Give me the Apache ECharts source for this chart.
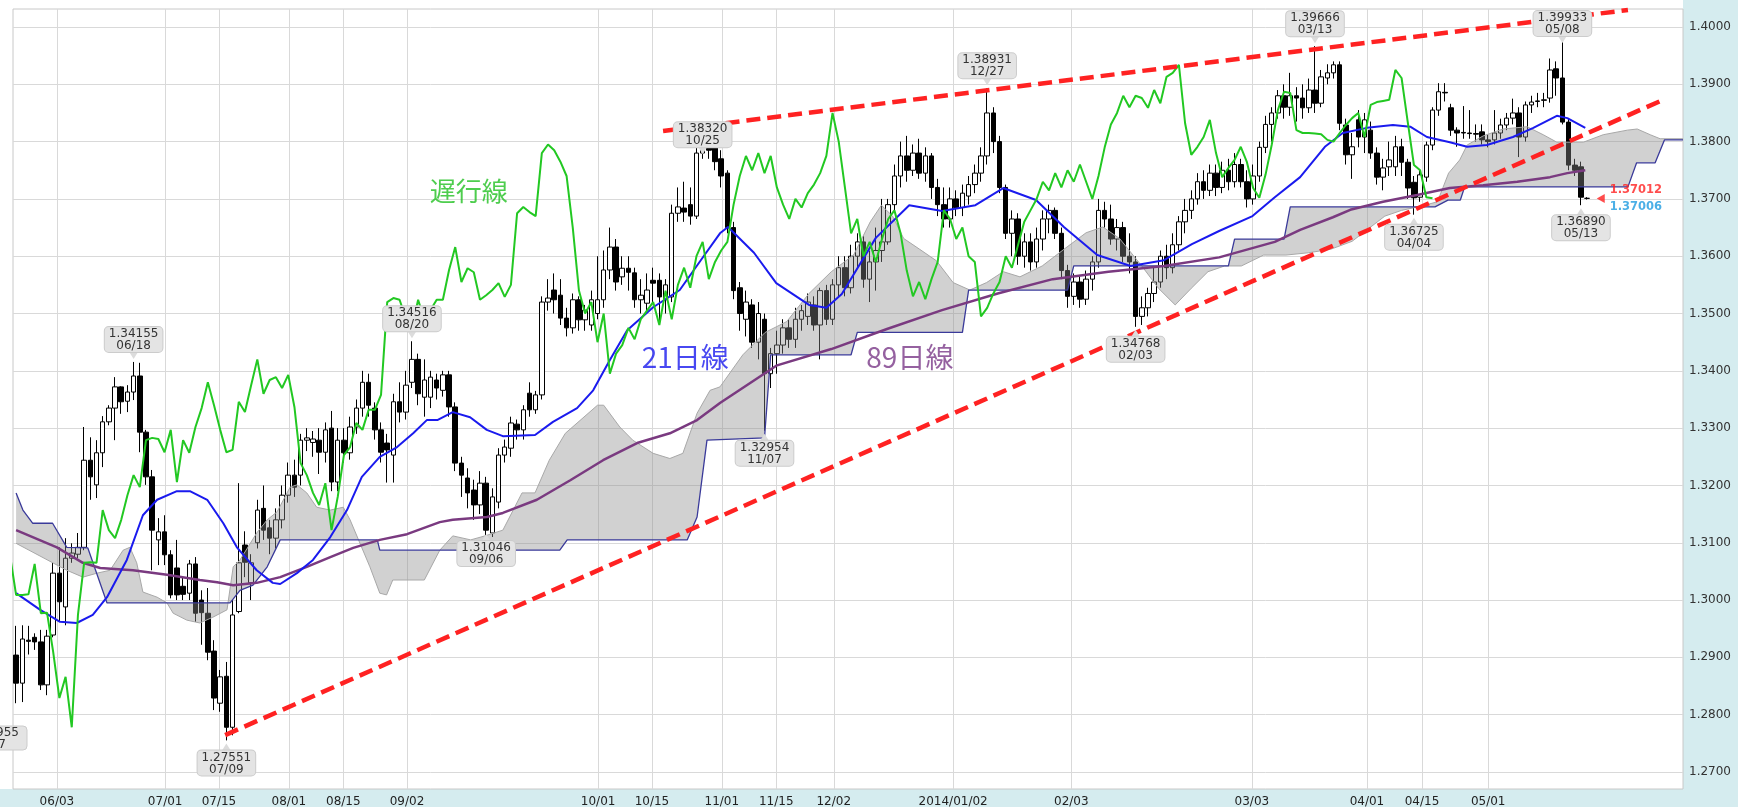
<!DOCTYPE html>
<html>
<head>
<meta charset="utf-8">
<script src="https://cdn.jsdelivr.net/npm/echarts@6/dist/echarts.min.js"></script>
<style>
  html, body { margin: 0; padding: 0; background: #fff; }
  #chart { width: 1738px; height: 807px; }
</style>
</head>
<body>
<div id="chart"></div>
<script>
// daily candles, [open, close, low, high], slot 0 = first visible day
const ohlc = [
  [1.2904,1.2855,1.2820,1.2955],[1.2855,1.2932,1.2822,1.2956],[1.2930,1.2928,1.2905,1.2955],[1.2935,1.2927,1.2913,1.2942],
  [1.2927,1.2852,1.2843,1.2948],[1.2852,1.2937,1.2834,1.2948],[1.2939,1.3047,1.2935,1.3065],[1.3047,1.2997,1.2962,1.3092],
  [1.2988,1.3073,1.2956,1.3108],[1.3073,1.3082,1.3065,1.3099],[1.3080,1.3092,1.3073,1.3117],[1.3092,1.3244,1.3087,1.3302],
  [1.3244,1.3215,1.3175,1.3284],[1.3201,1.3257,1.3178,1.3279],[1.3257,1.3311,1.3232,1.3321],[1.3311,1.3335,1.3305,1.3340],
  [1.3335,1.3372,1.3279,1.3389],[1.3372,1.3346,1.3325,1.3373],[1.3347,1.3363,1.3328,1.3375],[1.3363,1.3391,1.3349,1.34155],
  [1.3391,1.3293,1.3258,1.3414],[1.3293,1.3215,1.3201,1.3297],[1.3215,1.3122,1.3052,1.3227],[1.3105,1.3119,1.3061,1.3143],
  [1.3119,1.3079,1.3061,1.3148],[1.3079,1.3009,1.3003,1.3087],[1.3056,1.3009,1.3000,1.3105],[1.3024,1.3010,1.3000,1.3040],
  [1.3012,1.3063,1.3000,1.3070],[1.3063,1.2977,1.2962,1.3075],[1.3000,1.2978,1.2922,1.3017],[1.2977,1.2909,1.2895,1.3021],
  [1.2911,1.2829,1.2808,1.2930],[1.2820,1.2866,1.2805,1.2878],[1.2867,1.2778,1.27551,1.2892],[1.2778,1.2974,1.2764,1.3000],
  [1.2980,1.3065,1.2977,1.3204],[1.3096,1.3066,1.3040,1.3120],[1.3030,1.3065,1.3000,1.3080],[1.3100,1.3157,1.3090,1.3175],
  [1.3160,1.3122,1.3105,1.3200],[1.3126,1.3108,1.3080,1.3140],[1.3108,1.3140,1.3090,1.3160],[1.3140,1.3183,1.3125,1.3200],
  [1.3183,1.3218,1.3170,1.3240],[1.3218,1.3197,1.3180,1.3245],[1.3218,1.3279,1.3200,1.3290],[1.3279,1.3283,1.3260,1.3300],
  [1.3275,1.3281,1.3250,1.3295],[1.3279,1.3258,1.3220,1.3300],[1.3258,1.3297,1.3240,1.3310],[1.3300,1.3206,1.3190,1.3330],
  [1.3206,1.3279,1.3190,1.3300],[1.3279,1.3257,1.3240,1.3300],[1.3257,1.3302,1.3245,1.3320],[1.3302,1.3335,1.3290,1.3350],
  [1.3335,1.3380,1.3320,1.3400],[1.3380,1.3340,1.3320,1.3395],[1.3335,1.3297,1.3280,1.3345],[1.3297,1.3258,1.3240,1.3310],
  [1.3274,1.3262,1.3205,1.3290],[1.3253,1.3346,1.3205,1.3360],[1.3346,1.3328,1.3310,1.3380],[1.3328,1.3375,1.3315,1.3400],
  [1.3380,1.3420,1.3370,1.34516],[1.3420,1.3360,1.3340,1.3430],[1.3354,1.3384,1.3320,1.3420],[1.3354,1.3389,1.3335,1.3400],
  [1.3384,1.3370,1.3350,1.3395],[1.3366,1.3393,1.3355,1.3400],[1.3393,1.3337,1.3320,1.3400],[1.3337,1.3239,1.3225,1.3345],
  [1.3239,1.3218,1.3180,1.3250],[1.3213,1.3187,1.3160,1.3230],[1.3192,1.3166,1.3140,1.3210],[1.3166,1.3204,1.3150,1.3225],
  [1.3204,1.3122,1.31046,1.3215],[1.3117,1.3180,1.3110,1.3195],[1.3171,1.3253,1.3160,1.3265],[1.3253,1.3267,1.3240,1.3280],
  [1.3265,1.3309,1.3250,1.3320],[1.3307,1.3297,1.3280,1.3315],[1.3297,1.3332,1.3280,1.3340],[1.3361,1.3332,1.3320,1.3380],
  [1.3332,1.3358,1.3325,1.3365],[1.3358,1.3520,1.3350,1.3530],[1.3520,1.3527,1.3505,1.3560],[1.3541,1.3524,1.3500,1.3570],
  [1.3532,1.3492,1.3480,1.3560],[1.3492,1.3475,1.3460,1.3510],[1.3475,1.3524,1.3465,1.3535],[1.3524,1.3489,1.3470,1.3530],
  [1.3489,1.3506,1.3470,1.3515],[1.3480,1.3524,1.3470,1.3540],[1.3500,1.3524,1.3490,1.3600],[1.3524,1.3576,1.3510,1.3610],
  [1.3576,1.3616,1.3560,1.3650],[1.3616,1.3555,1.3540,1.3630],[1.3564,1.3579,1.3550,1.3600],[1.3579,1.3572,1.3540,1.3600],
  [1.3571,1.3524,1.3510,1.3580],[1.3524,1.3532,1.3500,1.3560],[1.3518,1.3541,1.3500,1.3570],[1.3558,1.3553,1.3520,1.3580],
  [1.3558,1.3529,1.3480,1.3570],[1.3524,1.3550,1.3500,1.3560],[1.3529,1.3675,1.3520,1.3690],[1.3675,1.3686,1.3660,1.3720],
  [1.3684,1.3677,1.3660,1.3730],[1.3690,1.3670,1.3655,1.3720],[1.3670,1.3780,1.3665,1.3790],[1.3780,1.3795,1.3770,1.3832],
  [1.3795,1.3785,1.3770,1.3815],[1.3790,1.3765,1.3750,1.3810],[1.3770,1.3740,1.3720,1.3785],[1.3745,1.3650,1.3640,1.3750],
  [1.3650,1.3540,1.3525,1.3660],[1.3545,1.3500,1.3470,1.3555],[1.3490,1.3520,1.3460,1.3540],[1.3515,1.3450,1.3440,1.3525],
  [1.3450,1.3500,1.3420,1.3520],[1.3490,1.3395,1.32954,1.3500],[1.3395,1.3430,1.3370,1.3440],[1.3430,1.3445,1.3395,1.3470],
  [1.3445,1.3475,1.3430,1.3490],[1.3475,1.3455,1.3440,1.3490],[1.3455,1.3490,1.3440,1.3510],[1.3490,1.3505,1.3470,1.3515],
  [1.3495,1.3520,1.3480,1.3535],[1.3515,1.3480,1.3470,1.3530],[1.3480,1.3540,1.3420,1.3545],[1.3540,1.3490,1.3480,1.3550],
  [1.3490,1.3550,1.3480,1.3560],[1.3550,1.3580,1.3530,1.3600],[1.3580,1.3545,1.3530,1.3600],[1.3545,1.3600,1.3535,1.3620],
  [1.3600,1.3625,1.3580,1.3640],[1.3625,1.3560,1.3545,1.3635],[1.3560,1.3590,1.3520,1.3610],[1.3590,1.3610,1.3540,1.3650],
  [1.3610,1.3625,1.3590,1.3700],[1.3625,1.3690,1.3620,1.3700],[1.3690,1.3740,1.3680,1.3760],[1.3740,1.3775,1.3720,1.3800],
  [1.3775,1.3750,1.3730,1.3810],[1.3750,1.3780,1.3740,1.3795],[1.3780,1.3745,1.3735,1.3805],[1.3745,1.3775,1.3730,1.3790],
  [1.3775,1.3720,1.3700,1.3780],[1.3720,1.3690,1.3670,1.3735],[1.3690,1.3665,1.3650,1.3720],[1.3665,1.3700,1.3650,1.3720],
  [1.3700,1.3685,1.3670,1.3715],[1.3685,1.3710,1.3670,1.3725],[1.3705,1.3725,1.3690,1.3740],[1.3725,1.3745,1.3710,1.3760],
  [1.3745,1.3775,1.3730,1.3790],[1.3775,1.3850,1.3760,1.38931],[1.3850,1.3800,1.3780,1.3860],[1.3800,1.3720,1.3710,1.3810],
  [1.3720,1.3640,1.3630,1.3725],[1.3640,1.3665,1.3600,1.3680],[1.3665,1.3600,1.3585,1.3675],[1.3600,1.3625,1.3580,1.3640],
  [1.3625,1.3590,1.3575,1.3640],[1.3590,1.3630,1.3580,1.3650],[1.3630,1.3665,1.3610,1.3680],[1.3665,1.3680,1.3640,1.3690],
  [1.3680,1.3640,1.3630,1.3685],[1.3640,1.3575,1.3560,1.3650],[1.3575,1.3530,1.3510,1.3585],[1.3530,1.3555,1.3515,1.3570],
  [1.3555,1.3525,1.3510,1.3565],[1.3525,1.3560,1.3515,1.3575],[1.3560,1.3590,1.3540,1.3600],[1.3590,1.3680,1.3580,1.3700],
  [1.3680,1.3665,1.3650,1.3695],[1.3665,1.3630,1.3620,1.3690],[1.3630,1.3650,1.3610,1.3665],[1.3650,1.3600,1.3590,1.3660],
  [1.3600,1.3590,1.3570,1.3640],[1.3590,1.3495,1.34768,1.3600],[1.3495,1.3510,1.3480,1.3530],[1.3510,1.3535,1.3495,1.3545],
  [1.3535,1.3555,1.3520,1.3580],[1.3555,1.3600,1.3545,1.3610],[1.3600,1.3580,1.3560,1.3620],[1.3580,1.3620,1.3570,1.3640],
  [1.3620,1.3660,1.3610,1.3670],[1.3660,1.3680,1.3640,1.3700],[1.3680,1.3700,1.3665,1.3715],[1.3700,1.3730,1.3690,1.3745],
  [1.3730,1.3715,1.3700,1.3750],[1.3715,1.3745,1.3705,1.3760],[1.3745,1.3720,1.3705,1.3760],[1.3720,1.3750,1.3710,1.3765],
  [1.3750,1.3730,1.3715,1.3770],[1.3730,1.3760,1.3720,1.3780],[1.3760,1.3730,1.3720,1.3770],[1.3730,1.3700,1.3685,1.3750],
  [1.3700,1.3740,1.3690,1.3760],[1.3740,1.3790,1.3730,1.3800],[1.3790,1.3830,1.3780,1.3845],[1.3830,1.3850,1.3800,1.3860],
  [1.3850,1.3880,1.3840,1.3890],[1.3880,1.3860,1.3840,1.3900],[1.3860,1.3880,1.3845,1.3920],[1.3880,1.3876,1.3835,1.3895],
  [1.3876,1.3859,1.3840,1.3900],[1.3859,1.3890,1.3850,1.3910],[1.3890,1.3867,1.3850,1.39666],[1.3867,1.3913,1.3860,1.3925],
  [1.3911,1.3920,1.3900,1.3935],[1.3920,1.3934,1.3910,1.3940],[1.3934,1.3832,1.3820,1.3940],[1.3829,1.3777,1.3760,1.3840],
  [1.3777,1.3791,1.3735,1.3815],[1.3838,1.3808,1.3790,1.3855],[1.3808,1.3838,1.3780,1.3850],[1.3820,1.3780,1.3770,1.3835],
  [1.3780,1.3738,1.3725,1.3790],[1.3738,1.3754,1.3715,1.3770],[1.3756,1.3768,1.3740,1.3800],[1.3756,1.3791,1.3740,1.3810],
  [1.3791,1.3764,1.3740,1.3805],[1.3764,1.3719,1.3700,1.3770],[1.3729,1.3702,1.36725,1.3740],[1.3703,1.3742,1.3695,1.3750],
  [1.3738,1.3794,1.3730,1.3800],[1.3794,1.3855,1.3785,1.3860],[1.3855,1.3887,1.3845,1.3902],[1.3886,1.3885,1.3870,1.3902],
  [1.3859,1.3820,1.3810,1.3866],[1.3820,1.3815,1.3791,1.3825],[1.3816,1.3815,1.3805,1.3862],[1.3815,1.3814,1.3805,1.3855],
  [1.3814,1.3813,1.3800,1.3830],[1.3817,1.3803,1.3795,1.3830],[1.3803,1.3800,1.3790,1.3812],[1.3803,1.3815,1.3795,1.3855],
  [1.3815,1.3829,1.3805,1.3840],[1.3829,1.3841,1.3820,1.3850],[1.3841,1.3850,1.3830,1.3875],[1.3850,1.3808,1.3773,1.3860],
  [1.3808,1.3864,1.3800,1.3870],[1.3864,1.3869,1.3850,1.3880],[1.3870,1.3871,1.3860,1.3885],[1.3872,1.3873,1.3860,1.3885],
  [1.3876,1.3925,1.3868,1.3945],[1.3927,1.3911,1.3880,1.3940],[1.3911,1.3834,1.3830,1.39933],[1.3834,1.3759,1.3750,1.3840],
  [1.3759,1.3750,1.3740,1.3770],[1.3756,1.3703,1.3689,1.3765],[1.3701,1.3701,1.3699,1.3703]
];

// moving averages and ichimoku spans, [slot, price]
const ma21 = [[0,1.3012],[3.9,1.2983],[7.1,1.2962],[9.8,1.2960],[12.4,1.2974],[14.7,1.3005],[17.9,1.3070],[20.5,1.3148],
  [22.8,1.3175],[26.0,1.3190],[28.1,1.3190],[30.9,1.3175],[33.5,1.3134],[35.7,1.3092],[38.9,1.3052],[41.5,1.3030],
  [42.7,1.3028],[45.4,1.3047],[48.0,1.3070],[50.8,1.3110],[53.5,1.3157],[55.9,1.3215],[58.8,1.3250],[61.6,1.3267],
  [64.2,1.3291],[66.4,1.3314],[68.1,1.3314],[70.6,1.3328],[73.4,1.3319],[76.1,1.3297],[78.7,1.3286],[83.9,1.3288],
  [86.8,1.3311],[90.7,1.3335],[93.3,1.3366],[96.0,1.3419],[98.8,1.3471],[103.0,1.3511],[107.3,1.3541],[111.1,1.3599],
  [113.8,1.3640],[115.1,1.3651],[119.3,1.3606],[122.9,1.3553],[128.2,1.3515],[131.0,1.3510],[133.5,1.3534],[139.0,1.3632],
  [144.4,1.3689],[149.7,1.3679],[155.1,1.3689],[159.6,1.3719],[164.9,1.3698],[169.4,1.3651],[174.8,1.3602],[180.2,1.3583],
  [185.6,1.3593],[190.1,1.3621],[194.5,1.3644],[199.9,1.3670],[203.5,1.3703],[207.6,1.3738],[211.6,1.3791],[214.5,1.3815],
  [218.4,1.3824],[222.6,1.3829],[225.4,1.3826],[228.1,1.3808],[231.8,1.3799],[234.6,1.3791],[237.8,1.3794],[242.0,1.3808],
  [245.3,1.3824],[249.1,1.3845],[250.8,1.3841],[253.7,1.3824]];

const ma89 = [[0,1.3122],[6.6,1.3092],[10.8,1.3065],[13.6,1.3056],[18.9,1.3052],[24.4,1.3044],[29.7,1.3035],[32.5,1.3031],
  [35.1,1.3026],[38.9,1.3030],[42.7,1.3040],[47.0,1.3058],[50.8,1.3075],[54.5,1.3091],[58.8,1.3105],[63.2,1.3115],
  [68.5,1.3136],[70.6,1.3140],[76.1,1.3145],[78.7,1.3152],[84.2,1.3175],[89.6,1.3209],[94.9,1.3244],[100.4,1.3274],
  [105.7,1.3291],[110.1,1.3314],[113.8,1.3344],[122.9,1.3409],[131.8,1.3438],[140.8,1.3473],[149.7,1.3506],[158.7,1.3535],
  [167.6,1.3560],[176.6,1.3573],[185.6,1.3583],[194.5,1.3598],[203.5,1.3625],[207.6,1.3646],[212.9,1.3668],[215.7,1.3681],
  [221.0,1.3695],[226.5,1.3707],[231.8,1.3719],[237.2,1.3724],[242.7,1.3730],[248.0,1.3738],[250.8,1.3745],[253.7,1.3750]];

const spanA = [[0,1.3099],[8.2,1.3052],[10.8,1.3040],[13.1,1.3047],[15.2,1.3052],[17.3,1.3087],[18.4,1.3092],[19.5,1.3065],
  [20.5,1.3014],[22.8,1.3005],[24.4,1.2995],[25.4,1.2977],[27.6,1.2965],[29.7,1.2960],[31.8,1.2970],[34.1,1.2983],
  [35.1,1.3058],[36.2,1.3070],[38.9,1.3117],[40.6,1.3140],[42.2,1.3154],[44.3,1.3197],[45.4,1.3201],[47.0,1.3187],
  [48.6,1.3162],[50.8,1.3157],[52.9,1.3162],[54.0,1.3140],[55.6,1.3099],[57.2,1.3058],[58.8,1.3012],[59.9,1.3009],
  [60.9,1.3035],[66.0,1.3035],[68.5,1.3087],[70.6,1.3112],[73.5,1.3105],[75.8,1.3112],[78.7,1.3122],[81.8,1.3187],
  [83.9,1.3187],[86.2,1.3244],[88.8,1.3291],[94.0,1.3340],[95.0,1.3340],[97.6,1.3302],[99.7,1.3279],[103.0,1.3256],
  [105.7,1.3247],[107.8,1.3256],[110.1,1.3326],[112.2,1.3366],[113.8,1.3372],[117.5,1.3428],[121.1,1.3467],[124.6,1.3486],
  [128.2,1.3535],[131.8,1.3573],[135.4,1.3602],[138.1,1.3660],[139.9,1.3689],[141.7,1.3670],[143.5,1.3631],[146.1,1.3612],
  [148.8,1.3592],[151.5,1.3554],[154.2,1.3541],[156.9,1.3554],[159.6,1.3573],[162.3,1.3564],[165.9,1.3583],[169.4,1.3612],
  [173.0,1.3641],[175.7,1.3651],[178.4,1.3631],[182.0,1.3583],[184.7,1.3544],[187.4,1.3515],[190.0,1.3544],[192.7,1.3573],
  [195.4,1.3583],[198.1,1.3583],[201.7,1.3602],[205.3,1.3602],[208.9,1.3606],[212.5,1.3612],[216.0,1.3626],[221.3,1.3670],
  [224.0,1.3680],[227.4,1.3688],[229.8,1.3695],[231.6,1.3745],[233.4,1.3768],[234.6,1.3794],[237.2,1.3810],[240.4,1.3822],
  [244.3,1.3826],[246.9,1.3812],[249.1,1.3799],[253.4,1.3799],[256.6,1.3812],[260.5,1.3820],[262.1,1.3822],[264.2,1.3812],
  [265.8,1.3805],[269.5,1.3805]];

const spanB = [[0,1.3187],[1.1,1.3157],[2.7,1.3134],[5.9,1.3134],[8.2,1.3092],[11.6,1.3091],[14.7,1.2995],[34.6,1.2995],
  [36.2,1.3017],[38.3,1.3026],[40.6,1.3058],[42.7,1.3105],[58.4,1.3105],[58.8,1.3087],[87.9,1.3087],[89.1,1.3105],
  [108.5,1.3105],[110.1,1.3145],[111.7,1.3279],[121,1.3283],[122,1.3428],[135,1.3428],[136,1.3467],[153,1.3467],
  [154,1.3541],[170,1.3541],[171,1.3583],[196,1.3583],[197,1.3630],[205,1.3630],[206,1.3686],[229.4,1.3686],
  [231.5,1.3698],[233.5,1.3698],[234.2,1.3721],[260.6,1.3721],[262,1.3763],[265,1.3763],[266.5,1.3803],[269.5,1.3803]];

const chikouShift = 25;
const slotCount = 270;

// red dashed channel, [slot, price] at each end
const trendUpper = [[104.6,1.38185],[260.6,1.40297]];
const trendLower = [[33.8,1.27644],[266.3,1.3873]];

// axis ticks
const priceTicks = [1.27,1.28,1.29,1.30,1.31,1.32,1.33,1.34,1.35,1.36,1.37,1.38,1.39,1.40];
const dateTickLabels = ['06/03','07/01','07/15','08/01','08/15','09/02','10/01','10/15','11/01','11/15','12/02','2014/01/02','02/03','03/03','04/01','04/15','05/01'];
const dateTickSlots = [6.6,24.1,32.8,44.1,52.9,63.2,94.1,102.8,114.1,122.9,132.2,151.5,170.6,199.8,218.4,227.3,238.0];

// labelled highs and lows
const peakSlots  = [19, 34, 64, 76, 111, 121, 157, 181, 210, 226, 250, 253];
const peakValues = [1.34155,1.27551,1.34516,1.31046,1.38320,1.32954,1.38931,1.34768,1.39666,1.36725,1.39933,1.36890];
const peakDates  = ['06/18','07/09','08/20','09/06','10/25','11/07','12/27','02/03','03/13','04/04','05/08','05/13'];
const peakKinds  = ['H','L','H','L','H','L','H','L','H','L','H','L'];

// current price tags
const bidPrice = 1.37012;
const askPrice = 1.37006;
const tagSlot = 256.2;

// line names
const lineNames = ['遅行線', '21日線', '89日線'];
const lineNameSlots = [73.2, 108.2, 144.5];
const lineNameValues = [1.3714, 1.3424, 1.3424];

const yMin = 1.26703, yMax = 1.40314;
const font = '"DejaVu Sans", Verdana, sans-serif';
const cjk = '"Noto Sans CJK JP", "Noto Sans", sans-serif';

const slots = Array.from({ length: slotCount }, (_, i) => String(i));
const chikou = ohlc.slice(chikouShift - 1).map((d, k) => [k - 1, d[1]]);

// a few boxes sit off their usual spot in the original (px, + = down)
const labelNudge = { '10/25': 34, '09/06': -9 };

const pxPerUnit = 780 / (yMax - yMin);
const peakMarks = peakSlots.map((slot, k) => {
  const isHigh = peakKinds[k] === 'H';
  const room = (yMax - peakValues[k]) * pxPerUnit;
  const push = (isHigh ? Math.max(0, 37 - room) : 0) + (labelNudge[peakDates[k]] || 0);
  return {
    coord: [slot, peakValues[k]],
    symbol: 'triangle',
    symbolSize: [10, 8],
    symbolRotate: isHigh ? 180 : 0,
    symbolOffset: [0, (isHigh ? -7 : 7) + push],
    itemStyle: { color: '#dcdcdc' },
    label: {
      show: true,
      position: isHigh ? 'top' : 'bottom',
      distance: -1,
      formatter: peakValues[k].toFixed(5) + '\n' + peakDates[k],
      fontFamily: font,
      fontSize: 12,
      lineHeight: 12,
      color: '#333',
      align: 'center',
      backgroundColor: '#e4e4e4',
      borderColor: '#cccccc',
      borderWidth: 1,
      borderRadius: 4,
      padding: [1, 4, 0, 4]
    }
  };
});

const nameColors = ['#22c022', '#1a1aee', '#7a3a88'];
const nameSizes = [26, 28, 28];

const chart = echarts.init(document.getElementById('chart'), null, { renderer: 'canvas' });

const option = {
  animation: false,
  backgroundColor: '#ffffff',
  graphic: [
    { type: 'rect', z: -10, shape: { x: 1683, y: 0, width: 60, height: 807 }, style: { fill: '#d5ecef' } },
    { type: 'rect', z: -10, shape: { x: 0, y: 789, width: 1738, height: 20 }, style: { fill: '#d5ecef' } },
    { type: 'group', z: 100, children: [
      { type: 'rect', shape: { x: -40, y: 726, width: 67, height: 24, r: 4 }, style: { fill: '#e4e4e4', stroke: '#cccccc' } },
      { type: 'text', x: 19, y: 727, style: { text: '1.27955', font: '12px ' + font, fill: '#333', align: 'right' } },
      { type: 'text', x: 6, y: 739, style: { text: '05/17', font: '12px ' + font, fill: '#333', align: 'right' } }
    ] }
  ],
  grid: {
    left: 13, right: 55, top: 9, bottom: 18,
    show: true, backgroundColor: '#ffffff', borderColor: '#c8c8c8', borderWidth: 1,
    containLabel: false, outerBoundsMode: 'none'
  },
  xAxis: [
    { type: 'category', data: slots, boundaryGap: true, show: false },
    {
      type: 'value', min: -0.5, max: slotCount - 0.5, position: 'bottom',
      axisLine: { show: false },
      axisTick: { show: false, customValues: dateTickSlots },
      axisLabel: {
        customValues: dateTickSlots, margin: 7, color: '#222', fontFamily: font, fontSize: 12,
        formatter: v => {
          const k = dateTickSlots.findIndex(s => Math.abs(s - v) < 1e-6);
          return k >= 0 ? dateTickLabels[k] : '';
        }
      },
      splitLine: { show: true, lineStyle: { color: '#d9d9d9', width: 1 } }
    }
  ],
  yAxis: {
    type: 'value', position: 'right', min: yMin, max: yMax,
    axisLine: { show: false },
    axisTick: { show: false, customValues: priceTicks },
    axisLabel: {
      customValues: priceTicks, margin: 6, color: '#333', fontFamily: font, fontSize: 12,
      formatter: v => v.toFixed(4)
    },
    splitLine: { show: true, lineStyle: { color: '#d9d9d9', width: 1 } }
  },
  series: [
    {
      name: 'candles', type: 'candlestick', xAxisIndex: 0, yAxisIndex: 0,
      data: ohlc, barWidth: 5, z: 2,
      itemStyle: { color: '#ffffff', color0: '#000000', borderColor: '#000000', borderColor0: '#000000', borderWidth: 1 }
    },
    {
      name: 'cloud', type: 'custom', xAxisIndex: 1, yAxisIndex: 0, z: 3, clip: true,
      data: [[0, spanA[0][1]]],
      renderItem: (params, api) => {
        const pts = spanA.map(d => api.coord(d)).concat(spanB.slice().reverse().map(d => api.coord(d)));
        return { type: 'polygon', shape: { points: pts }, style: { fill: 'rgba(140,140,140,0.40)' } };
      }
    },
    { name: 'spanA', type: 'line', xAxisIndex: 1, data: spanA, showSymbol: false, z: 4,
      lineStyle: { color: '#a8a8a8', width: 1 } },
    { name: 'spanB', type: 'line', xAxisIndex: 1, data: spanB, showSymbol: false, z: 4,
      lineStyle: { color: '#3a3a9a', width: 1.3 } },
    { name: 'ma89', type: 'line', xAxisIndex: 1, data: ma89, showSymbol: false, z: 5,
      lineStyle: { color: '#7a3a80', width: 2.5 } },
    { name: 'ma21', type: 'line', xAxisIndex: 1, data: ma21, showSymbol: false, z: 5,
      lineStyle: { color: '#1a1aee', width: 2 } },
    { name: 'chikou', type: 'line', xAxisIndex: 1, data: chikou, showSymbol: false, z: 6,
      lineStyle: { color: '#22c822', width: 2 } },
    { name: 'trendUpper', type: 'line', xAxisIndex: 1, data: trendUpper, showSymbol: false, z: 7,
      lineStyle: { color: '#ff2222', width: 4.5, type: [14, 7] } },
    { name: 'trendLower', type: 'line', xAxisIndex: 1, data: trendLower, showSymbol: false, z: 7,
      lineStyle: { color: '#ff2222', width: 4.5, type: [14, 7] } },
    {
      name: 'peaks', type: 'line', xAxisIndex: 0, data: [], z: 9,
      markPoint: { z: 9, silent: true, data: peakMarks }
    },
    {
      name: 'names', type: 'scatter', xAxisIndex: 1, symbolSize: 0, z: 8, silent: true,
      data: lineNames.map((n, k) => ({
        value: [lineNameSlots[k], lineNameValues[k]],
        label: { show: true, position: 'inside', formatter: n, color: nameColors[k],
          fontFamily: cjk, fontSize: nameSizes[k] }
      }))
    },
    {
      name: 'tag', type: 'scatter', xAxisIndex: 1, z: 9, silent: true,
      symbol: 'triangle', symbolSize: [9, 8], symbolRotate: 90,
      itemStyle: { color: '#ff2020' },
      data: [{
        value: [tagSlot, (bidPrice + askPrice) / 2],
        label: {
          show: true, position: 'right', distance: 5,
          formatter: '{b|' + bidPrice.toFixed(5) + '}\n{a|' + askPrice.toFixed(5) + '}',
          rich: {
            b: { color: '#ff2020', fontWeight: 'bold', fontFamily: font, fontSize: 11.5, lineHeight: 17 },
            a: { color: '#1e9be0', fontWeight: 'bold', fontFamily: font, fontSize: 11.5, lineHeight: 17 }
          }
        }
      }]
    }
  ]
};

chart.setOption(option);
</script>
</body>
</html>
